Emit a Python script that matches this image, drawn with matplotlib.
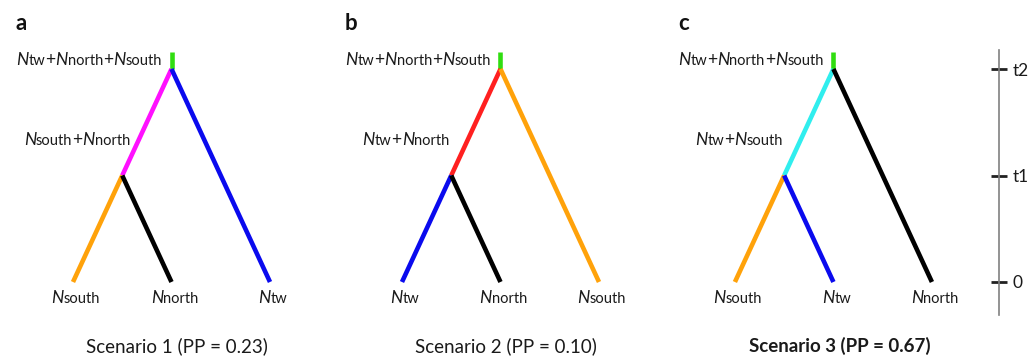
import matplotlib
matplotlib.use("Agg")
import matplotlib.pyplot as plt
from matplotlib.offsetbox import TextArea, HPacker, AnnotationBbox

# --- data ---
panel_letters = ["a", "b", "c"]
scenario_titles = ["Scenario 1 (PP = 0.23)", "Scenario 2 (PP = 0.10)", "Scenario 3 (PP = 0.67)"]
best_scenario = 2
leaf_names = [["Nsouth", "Nnorth", "Ntw"],
              ["Ntw", "Nnorth", "Nsouth"],
              ["Nsouth", "Ntw", "Nnorth"]]
ancestor_names = ["Nsouth+Nnorth", "Ntw+Nnorth", "Ntw+Nsouth"]
root_name = "Ntw+Nnorth+Nsouth"
event_times = [0, 1, 2]          # present, t1, t2
time_labels = ["0", "t1", "t2"]
root_stem = 0.16

pop_colors = {
    "Nsouth": "#ffa20a", "Nnorth": "#000000", "Ntw": "#0a0aee",
    "Nsouth+Nnorth": "#ff10ff", "Ntw+Nnorth": "#ff2020", "Ntw+Nsouth": "#30eeee",
    "Ntw+Nnorth+Nsouth": "#30dd10",
}

# layout (figure pixels -> axis units)
W, H = 1031, 356
X0, XU = 73, 98.5      # px of first leaf, px per leaf step
T0, TU = 282, 106.5    # px of time 0, px per time unit
panel_offsets = [0, 3.34, 6.72]
FONT = "Lato"
TXT = "#1a1a1a"


def rich_label(ax, x, y, text, ha=0.5, big=12.5, small=10.5):
    # N in italic and the rest smaller, like the original
    parts = []
    buf = ""
    for ch in text:
        if ch in "N+":
            if buf:
                parts.append(TextArea(buf, textprops=dict(fontsize=small, family=FONT, color=TXT)))
                buf = ""
            style = "italic" if ch == "N" else "normal"
            parts.append(TextArea(ch, textprops=dict(fontsize=big, family=FONT, style=style, color=TXT)))
        else:
            buf += ch
    if buf:
        parts.append(TextArea(buf, textprops=dict(fontsize=small, family=FONT, color=TXT)))
    box = HPacker(children=parts, align="baseline", pad=0, sep=0)
    ab = AnnotationBbox(box, (x, y), xycoords="data", frameon=False,
                        box_alignment=(ha, 0.5), pad=0)
    ax.add_artist(ab)


fig = plt.figure(figsize=(W / 100, H / 100), dpi=100)
ax = fig.add_axes([0, 0, 1, 1])
ax.set_xlim(-X0 / XU, (W - X0) / XU)
ax.set_ylim((T0 - H) / TU, T0 / TU)
ax.axis("off")

t1, t2 = event_times[1], event_times[2]
lw = 3.3
for k in range(3):
    off = panel_offsets[k]
    leaves = leaf_names[k]
    anc = ancestor_names[k]
    x_leaf = [off + i for i in range(3)]
    x_anc = off + 0.5
    x_root = off + 1.0

    # root stem
    ax.plot([x_root, x_root], [t2, t2 + root_stem], color=pop_colors[root_name], lw=lw,
            solid_capstyle="butt")
    # ancestor branch
    ax.plot([x_anc, x_root], [t1, t2], color=pop_colors[anc], lw=lw, solid_capstyle="butt")
    # third lineage straight to root
    ax.plot([x_leaf[2], x_root], [0, t2], color=pop_colors[leaves[2]], lw=lw, solid_capstyle="butt")
    # two lineages merging at t1
    for i in range(2):
        ax.plot([x_leaf[i], x_anc], [0, t1], color=pop_colors[leaves[i]], lw=lw,
                solid_capstyle="butt")

    # labels
    rich_label(ax, x_root - 0.1, t2 + root_stem / 2, root_name, ha=1.0)
    rich_label(ax, x_anc - 0.46, 1.33, anc, ha=0.5)
    for i in range(3):
        rich_label(ax, x_leaf[i] + 0.03, -0.15, leaves[i], ha=0.5)

    ax.text(x_root + 0.06, -0.6, scenario_titles[k], ha="center", va="center",
            fontsize=13.5, family=FONT, color=TXT,
            fontweight="bold" if k == best_scenario else "normal")
    ax.text(off - 0.58, 2.43, panel_letters[k], ha="left", va="center",
            fontsize=16, family=FONT, fontweight="bold", color="#111111")

# time scale on the right
top_px, bot_px = 50, 315
tax = fig.add_axes([999 / W, (H - bot_px) / H, 0.0005, (bot_px - top_px) / H])
tax.set_ylim((T0 - bot_px) / TU, (T0 - top_px) / TU)
tax.set_xticks([])
for s in ["top", "bottom", "right"]:
    tax.spines[s].set_visible(False)
tax.spines["left"].set_color("#808080")
tax.spines["left"].set_linewidth(1.2)
tax.set_yticks(event_times)
tax.set_yticklabels(time_labels, family=FONT, fontsize=12.5, color=TXT)
tax.tick_params(axis="y", direction="inout", length=11, width=2, color="#222222",
                left=True, right=False, labelleft=False, labelright=True, pad=4)
tax.patch.set_alpha(0)

fig.savefig("out.png", dpi=100)
